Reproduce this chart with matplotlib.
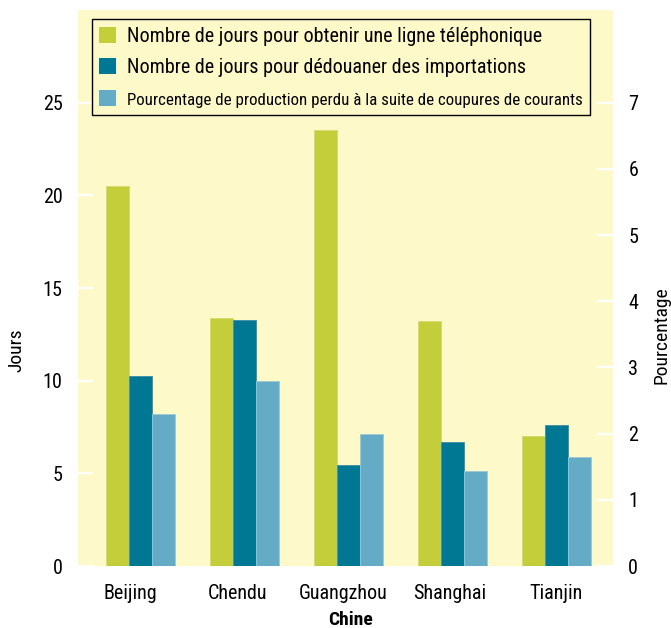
import matplotlib
matplotlib.use("Agg")
import matplotlib.pyplot as plt
from matplotlib import font_manager
from matplotlib.patches import Patch
import numpy as np

cities = ["Beijing", "Chendu", "Guangzhou", "Shanghai", "Tianjin"]
jours_ligne = [20.5, 13.4, 23.5, 13.2, 7.0]
jours_douane = [10.25, 13.3, 5.45, 6.7, 7.6]
pct_production = [2.3, 2.8, 2.0, 1.44, 1.64]

labels = ["Nombre de jours pour obtenir une ligne téléphonique",
          "Nombre de jours pour dédouaner des importations",
          "Pourcentage de production perdu à la suite de coupures de courants"]
left_ticks = [0, 5, 10, 15, 20, 25]
right_ticks = [0, 1, 2, 3, 4, 5, 6, 7]

avail = {f.name for f in font_manager.fontManager.ttflist}
fam = None
for cand in ["Liberation Sans Narrow", "DejaVu Sans Condensed", "Roboto Condensed", "Liberation Sans"]:
    if cand in avail:
        fam = cand
        break
plt.rcParams['font.family'] = [fam, 'DejaVu Sans']

c_green = "#C4CD3A"
c_teal = "#007793"
c_blue = "#64ACC6"
bg = "#FEF9C8"

fig = plt.figure(figsize=(6.71, 6.28), dpi=100)
ax = fig.add_axes([78/671, 62/628, 535/671, 556/628])
ax.set_facecolor(bg)
ax2 = ax.twinx()

x = np.arange(len(cities))
w = 0.221
ax.bar(x - w, jours_ligne, w, color=c_green, edgecolor="#D5DC70", linewidth=0.6)
ax.bar(x, jours_douane, w, color=c_teal, edgecolor="#3C8FA6", linewidth=0.6)
ax2.bar(x + w, pct_production, w, color=c_blue, edgecolor="#9CC8D6", linewidth=0.6)

ax.set_xlim(-0.597, 4.54)
ax.set_ylim(0, 30)
ax2.set_ylim(0, 30 * 7 / 25)

for a in (ax, ax2):
    for s in a.spines.values():
        s.set_visible(False)

ax.set_yticks(left_ticks)
ax2.set_yticks(right_ticks)
ax.tick_params(axis='y', direction='in', length=11, width=1.6, color='white',
               labelsize=14.5, pad=11)
ax2.tick_params(axis='y', direction='in', length=11.5, width=1.6, color='white',
                labelsize=14.5, pad=11)
ax.set_xticks(np.arange(len(cities)) * 1.02 - 0.09)
ax.set_xticklabels(cities)
ax.tick_params(axis='x', length=0, labelsize=14.5, pad=13)

fig.text(16/671, 1 - 350/628, "Jours", rotation=90, ha='center', va='center', fontsize=14)
fig.text(662/671, 1 - 335/628, "Pourcentage", rotation=90, ha='center', va='center', fontsize=14)
fig.text(351/671, 1 - 620/628, "Chine", ha='center', va='center', fontsize=14, fontweight='bold')

handles = [Patch(facecolor=c_green), Patch(facecolor=c_teal), Patch(facecolor=c_blue)]
leg = ax2.legend(handles, labels, loc='upper left',
                 bbox_to_anchor=((91.7 - 78) / 535, (566 - 19) / 556),
                 fontsize=14.5, frameon=True, fancybox=False, borderaxespad=0,
                 handlelength=0.85, handleheight=0.85, handletextpad=0.5,
                 borderpad=0.38, labelspacing=0.62)
leg.get_frame().set_facecolor(bg)
leg.get_frame().set_edgecolor('black')
leg.get_frame().set_linewidth(1.0)
leg.get_frame().set_alpha(1)
leg.get_texts()[2].set_fontsize(12.2)

fig.savefig("out.png", dpi=100, facecolor='white')
